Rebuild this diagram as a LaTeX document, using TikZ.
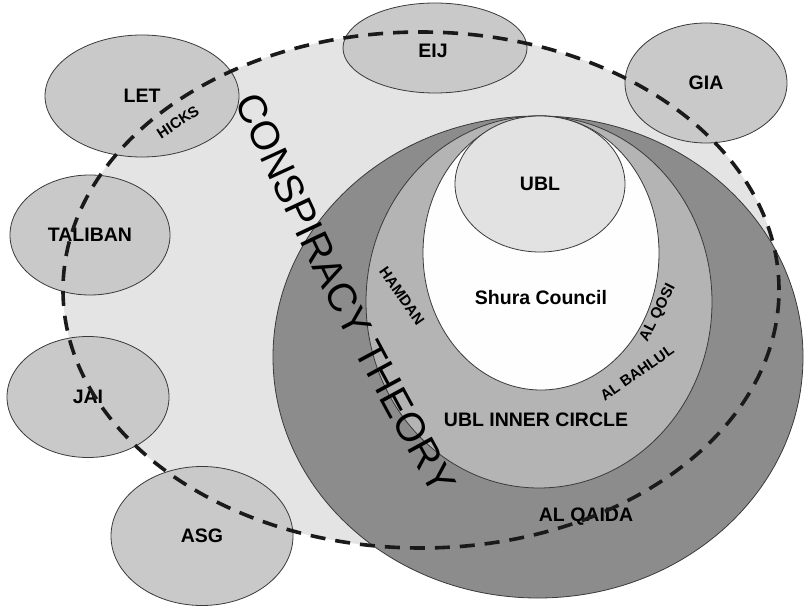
\documentclass[tikz,border=0pt]{standalone}
\usepackage{fontspec}
\setmainfont{Liberation Sans}
\usetikzlibrary{shapes.geometric,decorations.text}
\definecolor{ctfill}{HTML}{E4E4E4}
\definecolor{outerc}{HTML}{C9C9C9}
\definecolor{aqc}{HTML}{8C8C8C}
\definecolor{innerc}{HTML}{B4B4B4}
\definecolor{shurac}{HTML}{FEFEFE}
\definecolor{ublc}{HTML}{E2E2E2}
\definecolor{edgec}{HTML}{3A3A3A}
\definecolor{dashc}{HTML}{1A1A1A}
\newcommand\biglbl{\bfseries\fontsize{19.5}{20}\selectfont}
\newcommand\smllbl{\bfseries\fontsize{15}{16}\selectfont}
\tikzset{
  grp/.style={ellipse, draw=edgec, line width=0.8pt, fill=outerc, inner sep=0pt, font=\biglbl},
  ring/.style={ellipse, draw=edgec, line width=0.8pt, inner sep=0pt, font=\biglbl},
  lbl/.style={font=\biglbl, inner sep=0pt},
  sml/.style={font=\smllbl, inner sep=0pt},
  ctshape/.style={ellipse, inner sep=0pt, minimum width=716pt, minimum height=516pt},
  ctdash/.style={draw=dashc, line width=3.6pt, dash pattern=on 15pt off 10pt},
}
\begin{document}
\begin{tikzpicture}[x=1pt,y=-1pt]
\useasboundingbox (0,0) rectangle (805,609);
\fill[white] (0,0) rectangle (805,609);
% conspiracy theory area (fill)
\node[ctshape, fill=ctfill] (ctbg) at (421,290) {};
% nested circles
\node[ring, fill=aqc, minimum width=530pt, minimum height=482pt] (alqaida) at (538,357) {};
\node[ring, fill=innerc, minimum width=346pt, minimum height=372pt] (inner) at (539,302) {};
\node[ring, fill=shurac, minimum width=236pt, minimum height=274pt] (shura) at (541,253) {};
\node[ring, fill=ublc, minimum width=170pt, minimum height=136pt] (ubl) at (540,184) {UBL};
% outer groups
\node[grp, minimum width=194pt, minimum height=122pt] (let) at (142,96) {LET};
\node[grp, minimum width=160pt, minimum height=120pt] (taliban) at (90,235) {TALIBAN};
\node[grp, minimum width=162pt, minimum height=121pt] (jai) at (88,397) {JAI};
\node[grp, minimum width=182pt, minimum height=139pt] (asg) at (202,536) {ASG};
\node[grp, minimum width=184pt, minimum height=90pt] (eij) at (435,48) {};
\node[grp, minimum width=162pt, minimum height=120pt] (gia) at (706,83) {GIA};
% labels
\node[lbl] (eijlbl) at (433,51) {EIJ};
\node[lbl] (shuralbl) at (541,298) {Shura Council};
\node[lbl] (innerlbl) at (536,420) {UBL INNER CIRCLE};
\node[lbl] (aqlbl) at (586,517) {AL QAIDA};
\node[sml, rotate=33] (hicks) at (178,122) {HICKS};
\node[sml, rotate=-55] (hamdan) at (402,296) {HAMDAN};
\node[sml, rotate=63] (qosi) at (658,313) {AL QOSI};
\node[sml, rotate=35] (bahlul) at (637,373) {AL BAHLUL};
% dashed outline of conspiracy area
\node[ctshape, ctdash] (ctline) at (421,290) {};
% curved title
\coordinate (cts) at (236,104);
\coordinate (ctc) at (327,303);
\coordinate (cte) at (432,494);
\path[decorate, decoration={text along path, text align=center,
  text={|\fontsize{40}{40}\selectfont|CONSPIRACY THEORY}}]
  (cts) .. controls (ctc) .. (cte);
\end{tikzpicture}
\end{document}
